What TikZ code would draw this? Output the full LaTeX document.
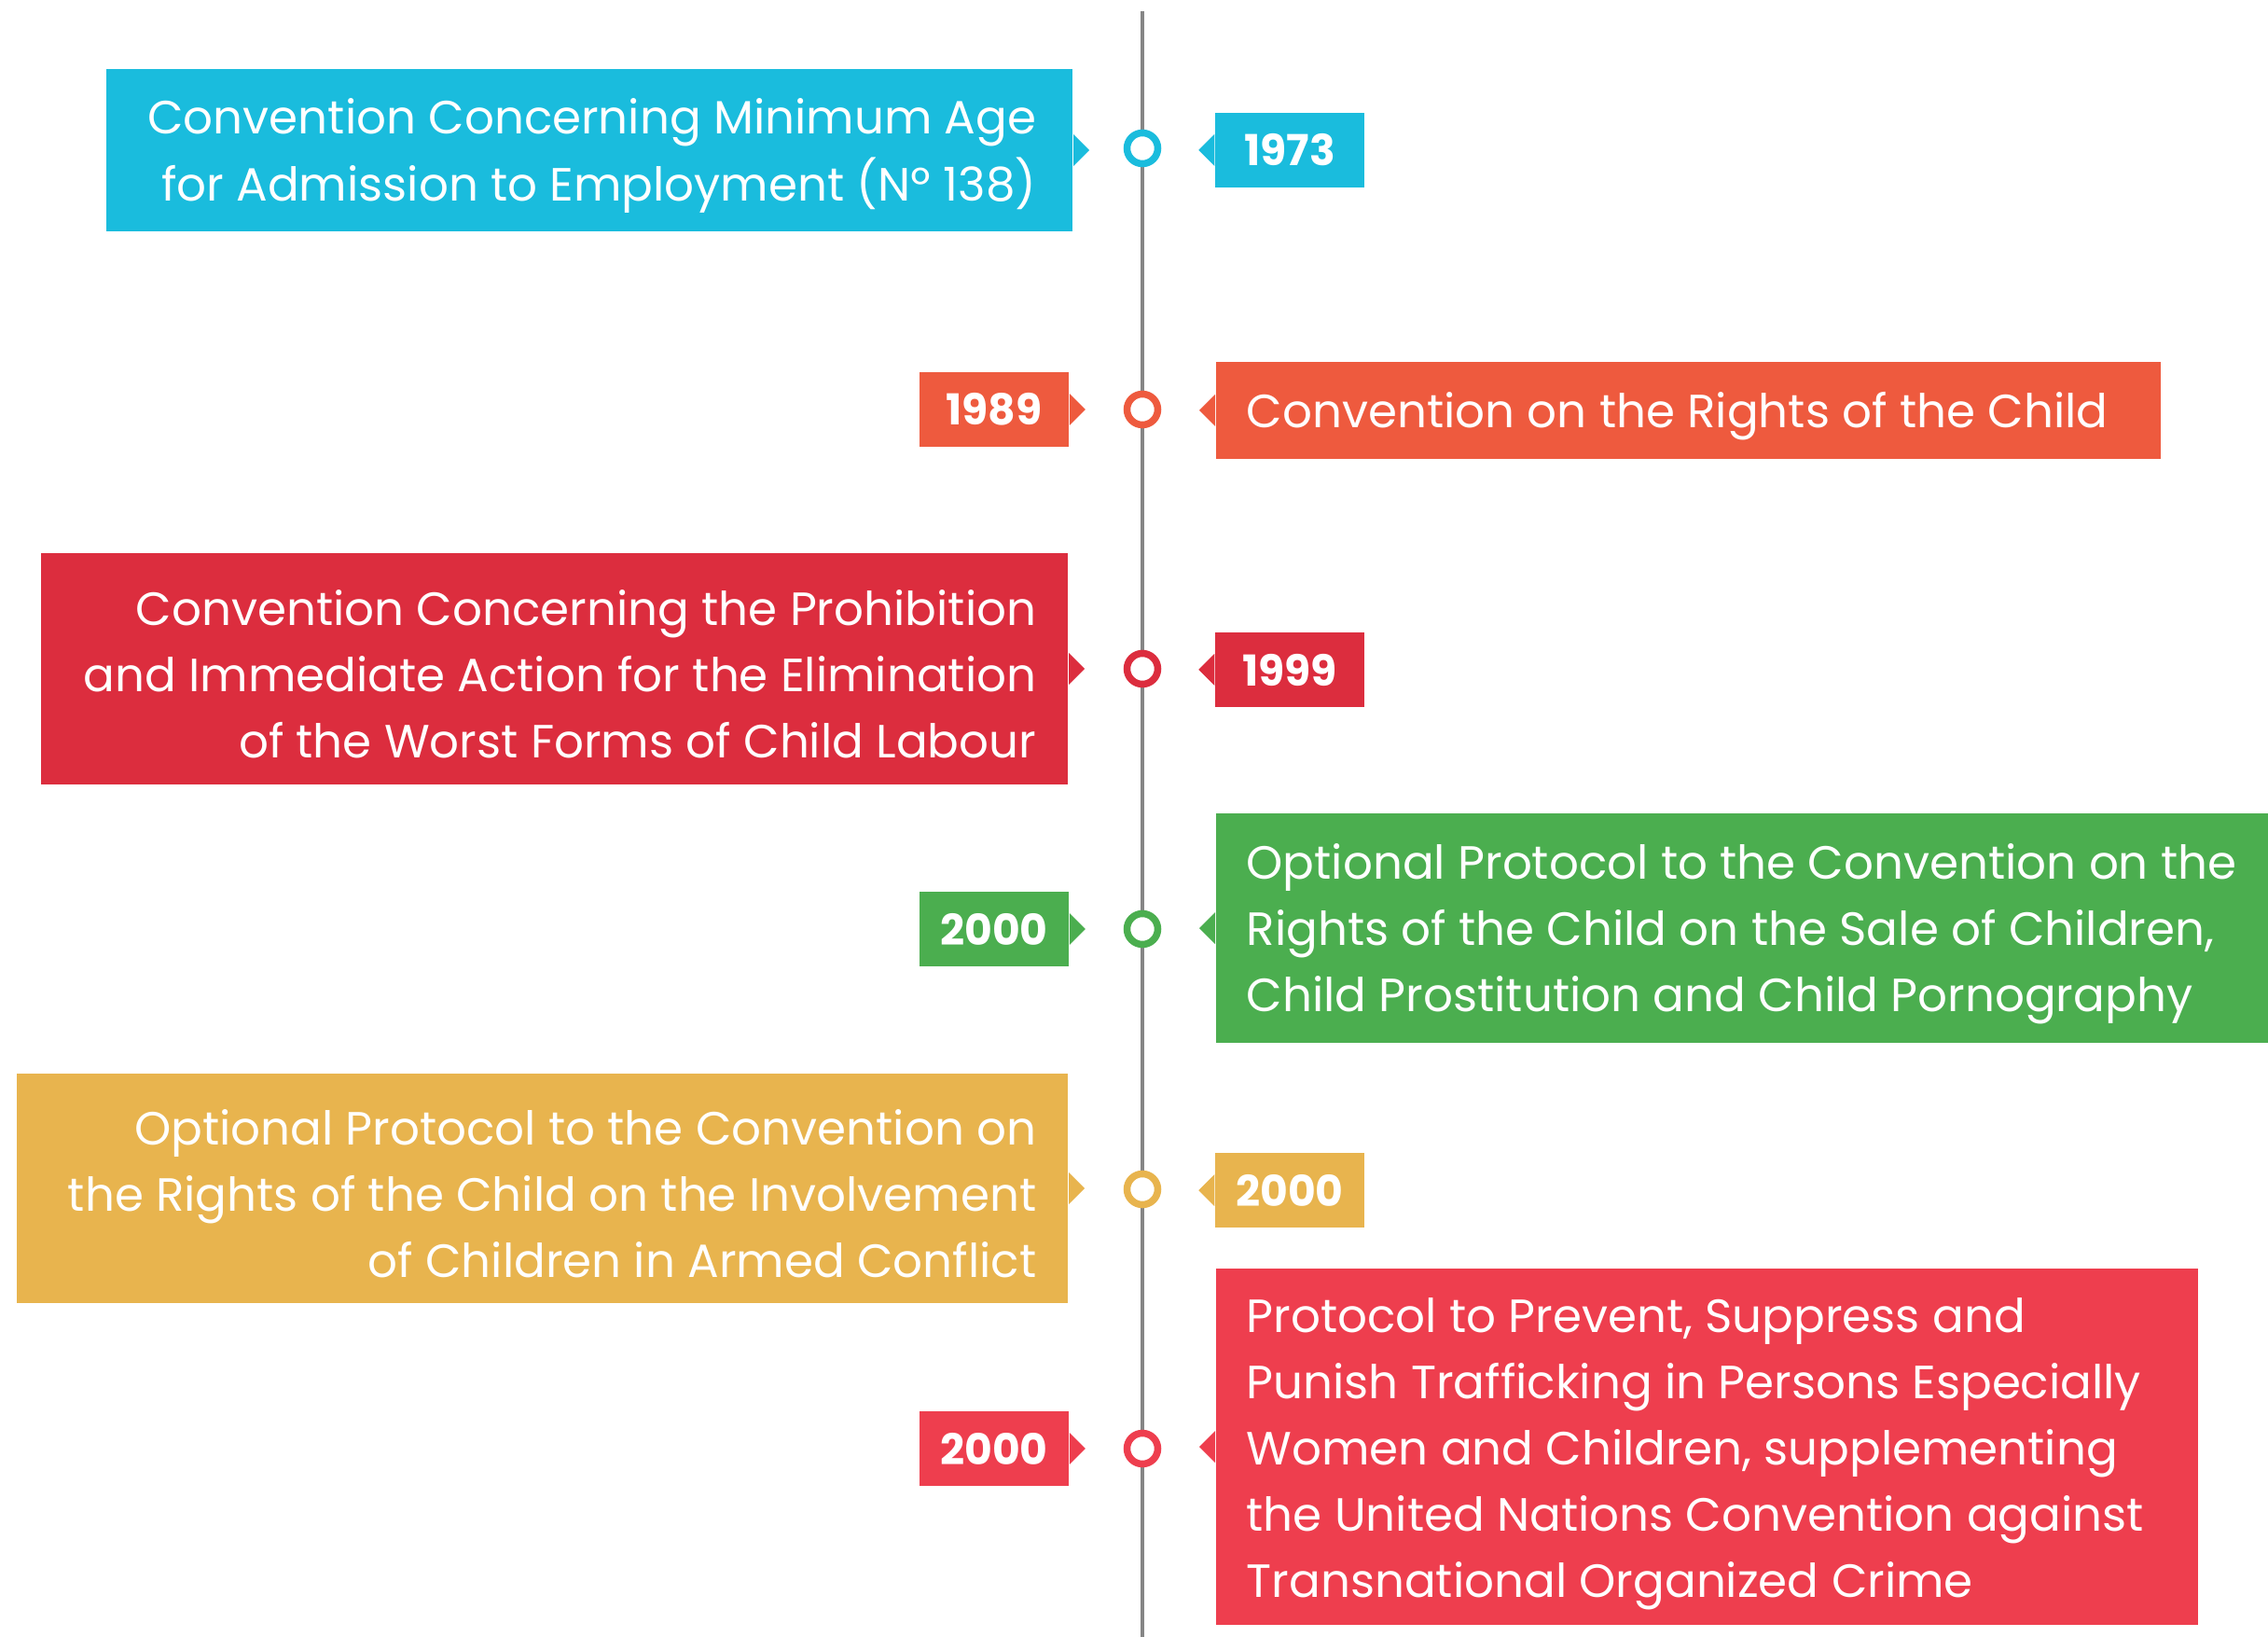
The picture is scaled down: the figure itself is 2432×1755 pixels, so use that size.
\documentclass[tikz,border=0pt]{standalone}
\usepackage{fontspec}
\setmainfont{Poppins}
\definecolor{tlcyan}{HTML}{1ABCDD}
\definecolor{tlorange}{HTML}{EE5A3E}
\definecolor{tlcrimson}{HTML}{DC2D3E}
\definecolor{tlgreen}{HTML}{4BAE4F}
\definecolor{tlyellow}{HTML}{E8B44E}
\definecolor{tlred}{HTML}{EE3E4E}
\newcommand{\tltip}[3]{\fill[#1] ([yshift=0.17cm]#2) -- ++(#3,-0.17cm) -- ++(-#3,-0.17cm) -- cycle;}
\begin{document}
\begin{tikzpicture}[x=0.01cm, y=-0.01cm,
        box/.style={inner sep=0pt},
        lefttext/.style={anchor=east, align=right, text=white, inner sep=0pt, font=\fontsize{14.2}{20.2}\selectfont},
        righttext/.style={anchor=west, align=left, text=white, inner sep=0pt, font=\fontsize{14.2}{20.2}\selectfont},
        yearbox/.style={text=white, minimum width=1.6cm, minimum height=0.8cm, inner sep=0pt, font=\fontsize{13}{15}\selectfont\bfseries},
        dot/.style={circle, fill=white, line width=0.075cm, minimum size=0.33cm, inner sep=0pt}]
        \useasboundingbox (0,0) rectangle (2432,1755);
        \clip (0,0) rectangle (2432,1755);
        % timeline
        \coordinate (top) at (1225,12);
        \coordinate (bottom) at (1225,1755);
        \draw[line width=0.04cm, gray!95] (top) -- (bottom);
        % 1973
        \node[box, anchor=east, fill=tlcyan, minimum width=10.36cm, minimum height=1.74cm] (t1) at (1151,161) {};
        \node[lefttext] (l1) at ([xshift=-0.39cm, yshift=-0.06cm]t1.east)
            {Convention Concerning Minimum Age\\for Admission to Employment (Nº 138)};
        \node[yearbox, fill=tlcyan] (y1) at (1383,161) {1973};
        \node[dot, draw=tlcyan] (d1) at (1225,159) {};
        \tltip{tlcyan}{t1.east}{0.17cm}
        \tltip{tlcyan}{y1.west}{-0.17cm}
        % 1989
        \node[yearbox, fill=tlorange] (y2) at (1066,439) {1989};
        \node[box, anchor=west, fill=tlorange, minimum width=10.13cm, minimum height=1.03cm] (t2) at (1303,440) {};
        \node[righttext] (l2) at ([xshift=0.33cm, yshift=-0.06cm]t2.west)
            {Convention on the Rights of the Child};
        \node[dot, draw=tlorange] (d2) at (1225,439) {};
        \tltip{tlorange}{y2.east}{0.17cm}
        \tltip{tlorange}{t2.west}{-0.17cm}
        % 1999
        \node[box, anchor=east, fill=tlcrimson, minimum width=11.01cm, minimum height=2.47cm] (t3) at (1146,717) {};
        \node[lefttext] (l3) at ([xshift=-0.34cm, yshift=-0.06cm]t3.east)
            {Convention Concerning the Prohibition\\and Immediate Action for the Elimination\\of the Worst Forms of Child Labour};
        \node[yearbox, fill=tlcrimson] (y3) at (1383,718) {1999};
        \node[dot, draw=tlcrimson] (d3) at (1225,717) {};
        \tltip{tlcrimson}{t3.east}{0.17cm}
        \tltip{tlcrimson}{y3.west}{-0.17cm}
        % 2000, sale of children
        \node[yearbox, fill=tlgreen] (y4) at (1066,996) {2000};
        \node[box, anchor=west, fill=tlgreen, minimum width=11.6cm, minimum height=2.45cm] (t4) at (1303,995) {};
        \node[righttext] (l4) at ([xshift=0.33cm, yshift=-0.06cm]t4.west)
            {Optional Protocol to the Convention on the\\Rights of the Child on the Sale of Children,\\Child Prostitution and Child Pornography};
        \node[dot, draw=tlgreen] (d4) at (1225,996) {};
        \tltip{tlgreen}{y4.east}{0.17cm}
        \tltip{tlgreen}{t4.west}{-0.17cm}
        % 2000, armed conflict
        \node[box, anchor=east, fill=tlyellow, minimum width=11.27cm, minimum height=2.46cm] (t5) at (1146,1274) {};
        \node[lefttext] (l5) at ([xshift=-0.34cm, yshift=-0.06cm]t5.east)
            {Optional Protocol to the Convention on\\the Rights of the Child on the Involvement\\of Children in Armed Conflict};
        \node[yearbox, fill=tlyellow] (y5) at (1383,1276) {2000};
        \node[dot, draw=tlyellow] (d5) at (1225,1275) {};
        \tltip{tlyellow}{t5.east}{0.17cm}
        \tltip{tlyellow}{y5.west}{-0.17cm}
        % 2000, trafficking
        \node[yearbox, fill=tlred] (y6) at (1066,1553) {2000};
        \node[box, anchor=west, fill=tlred, minimum width=10.53cm, minimum height=3.82cm] (t6) at (1303,1551) {};
        \node[righttext] (l6) at ([xshift=0.33cm, yshift=-0.08cm]t6.west)
            {Protocol to Prevent, Suppress and\\Punish Trafficking in Persons Especially\\Women and Children, supplementing\\the United Nations Convention against\\Transnational Organized Crime};
        \node[dot, draw=tlred] (d6) at (1225,1553) {};
        \tltip{tlred}{y6.east}{0.17cm}
        \tltip{tlred}{t6.west}{-0.17cm}
\end{tikzpicture}
\end{document}
